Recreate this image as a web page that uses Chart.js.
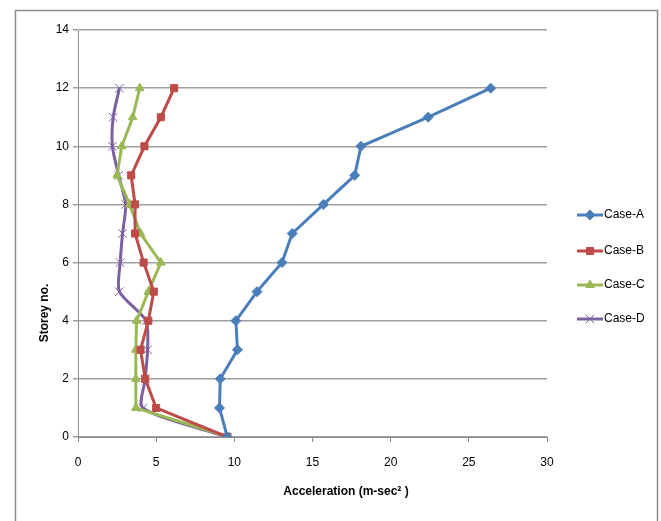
<!DOCTYPE html>
<html>
<head>
<meta charset="utf-8">
<script src="https://cdn.jsdelivr.net/npm/chart.js@4"></script>
<style>
  html, body { margin: 0; padding: 0; background: #fff; }
  #wrap { width: 661px; height: 521px; }
</style>
</head>
<body>
<div id="wrap"><canvas id="chart" width="661" height="521"></canvas></div>
<script>
  var storeys = [0, 1, 2, 3, 4, 5, 6, 7, 8, 9, 10, 11, 12];
  var caseA = [9.55, 9.05, 9.1, 10.2, 10.1, 11.45, 13.05, 13.7, 15.7, 17.7, 18.1, 22.4, 26.4];
  var caseB = [9.55, 5.0, 4.3, 4.0, 4.5, 4.85, 4.2, 3.65, 3.65, 3.4, 4.25, 5.3, 6.15];
  var caseC = [9.65, 3.7, 3.7, 3.7, 3.75, 4.5, 5.3, 4.0, 3.3, 2.5, 2.8, 3.5, 3.95];
  var caseD = [9.55, 4.15, 4.3, 4.45, 4.35, 2.65, 2.7, 2.85, 3.05, 2.6, 2.2, 2.25, 2.65];
  var xTicks = [0, 5, 10, 15, 20, 25, 30];
  var yTicks = [0, 2, 4, 6, 8, 10, 12, 14];

  var seriesNames = ['Case-A', 'Case-B', 'Case-C', 'Case-D'];
  var seriesColors = ['#4a7ebb', '#be4b48', '#98b954', '#7d60a0'];
  var seriesMarkers = ['rectRot', 'rect', 'triangle', 'crossRot'];

  var font = "'Liberation Sans Narrow', 'Liberation Sans', Arial, sans-serif";

  function pts(vals) {
    return vals.map(function (v, i) { return { x: v, y: storeys[i] }; });
  }

  var datasets = [caseA, caseB, caseC, caseD].map(function (vals, i) {
    return {
      label: seriesNames[i],
      data: pts(vals),
      showLine: true,
      borderColor: seriesColors[i],
      backgroundColor: seriesColors[i],
      borderWidth: 3,
      pointStyle: seriesMarkers[i],
      pointRadius: i === 3 ? 6 : 5,
      pointBorderWidth: 1,
      tension: i === 3 ? 0.25 : 0
    };
  });

  // frame, axis titles and legend drawn by hand to match the original layout
  var extras = {
    id: 'extras',
    beforeDraw: function (chart) {
      var c = chart.ctx;
      c.save();
      c.strokeStyle = '#8c8c8c';
      c.lineWidth = 1.5;
      c.beginPath();
      c.moveTo(15.5, 530);
      c.lineTo(15.5, 10.5);
      c.lineTo(657.5, 10.5);
      c.lineTo(657.5, 530);
      c.stroke();
      c.restore();
    },
    afterDraw: function (chart) {
      var c = chart.ctx;
      c.save();
      c.fillStyle = '#000';
      c.font = 'bold 12px ' + font;
      c.textAlign = 'center';
      c.textBaseline = 'middle';
      c.fillText('Acceleration (m-sec\u00b2 )', 346, 492);
      c.translate(45, 313);
      c.rotate(-Math.PI / 2);
      c.fillText('Storey no.', 0, 0);
      c.restore();

      var ys = [215, 251, 285, 319];
      c.save();
      c.font = '12px ' + font;
      c.textBaseline = 'middle';
      c.textAlign = 'left';
      for (var i = 0; i < 4; i++) {
        c.strokeStyle = seriesColors[i];
        c.fillStyle = seriesColors[i];
        c.lineWidth = 3;
        c.beginPath();
        c.moveTo(577, ys[i]);
        c.lineTo(603, ys[i]);
        c.stroke();
        c.lineWidth = 1;
        Chart.helpers.drawPoint(c, {
          pointStyle: seriesMarkers[i],
          radius: i === 3 ? 6 : 5,
          borderWidth: 1
        }, 590, ys[i]);
        c.fillStyle = '#000';
        c.fillText(seriesNames[i], 604, ys[i]);
      }
      c.restore();
    }
  };

  var ctx = document.getElementById('chart').getContext('2d');
  var myChart = new Chart(ctx, {
    type: 'scatter',
    data: { datasets: datasets },
    options: {
      responsive: false,
      animation: false,
      layout: { padding: { left: 0, right: 114, top: 30, bottom: 0 } },
      plugins: {
        legend: { display: false },
        tooltip: { enabled: false }
      },
      scales: {
        x: {
          type: 'linear',
          min: 0,
          max: 30,
          afterBuildTicks: function (s) { s.ticks = xTicks.map(function (v) { return { value: v }; }); },
          afterFit: function (s) { s.height = 84; },
          grid: { drawOnChartArea: false, drawTicks: true, tickLength: 5, color: '#8c8c8c' },
          border: { color: '#8c8c8c', width: 1 },
          ticks: { color: '#000', padding: 13, font: { family: font, size: 12 } }
        },
        y: {
          type: 'linear',
          min: 0,
          max: 14,
          afterBuildTicks: function (s) { s.ticks = yTicks.map(function (v) { return { value: v }; }); },
          afterFit: function (s) { s.width = 78; },
          grid: { drawOnChartArea: true, drawTicks: true, tickLength: 5, color: '#a0a0a0', lineWidth: 1.5 },
          border: { color: '#8c8c8c', width: 1 },
          ticks: { color: '#000', padding: 4, font: { family: font, size: 12 } }
        }
      }
    },
    plugins: [extras]
  });
</script>
</body>
</html>
